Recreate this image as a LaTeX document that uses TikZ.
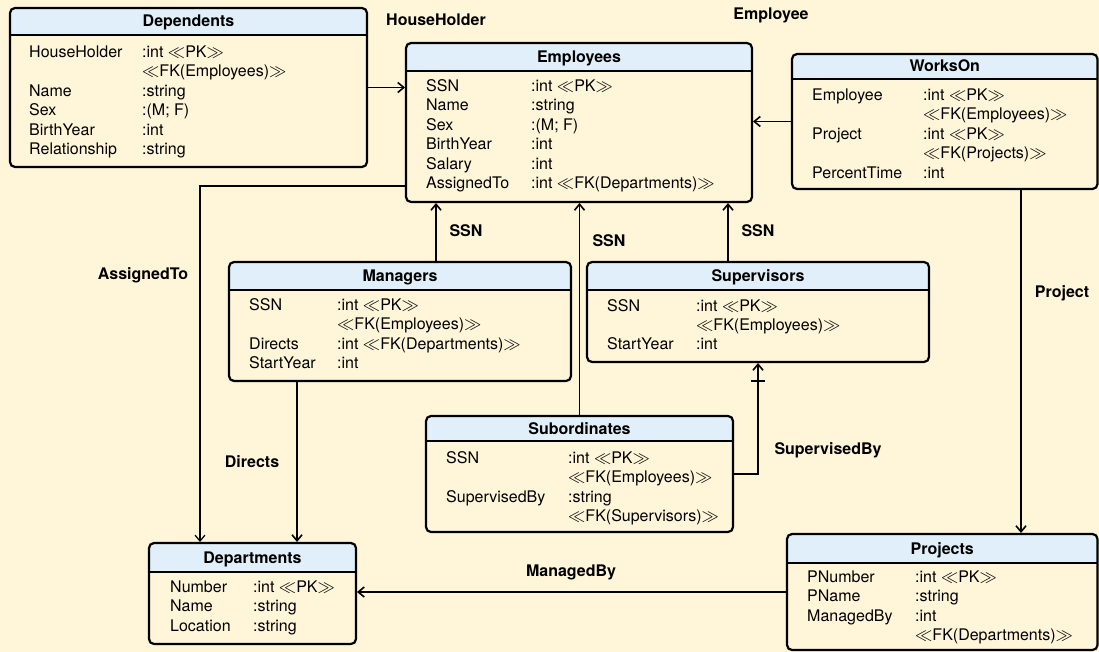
\documentclass[tikz,border=0pt]{standalone}
\usepackage{fontspec}
\setmainfont{TeX Gyre Heros}
\usetikzlibrary{arrows.meta}
\definecolor{bgc}{HTML}{FFF5D9}
\definecolor{hdrc}{HTML}{E0EFFA}
\begin{document}
\begin{tikzpicture}[x=1pt,y=-1pt,
  tbl/.style={draw, line width=2.2pt, rounded corners=5pt, fill=bgc, inner sep=0pt, outer sep=1pt,
    path picture={\fill[hdrc, sharp corners] (path picture bounding box.north west) rectangle ([yshift=-#1]path picture bounding box.north east);
      \draw[line width=2pt, sharp corners] ([yshift=-#1]path picture bounding box.north west) -- ([yshift=-#1]path picture bounding box.north east);}},
  ttl/.style={font=\fontsize{16}{19.4}\selectfont\bfseries, anchor=base, inner sep=0pt},
  body/.style={font=\fontsize{16}{19.4}\selectfont, anchor=base west, inner sep=0pt},
  lbl/.style={font=\fontsize{16}{19.4}\selectfont\bfseries, inner sep=0pt},
  conn/.style={line width=1.6pt, -{Straight Barb[length=6pt,width=10pt]}},
]
\path[use as bounding box, fill=bgc] (0,0) rectangle (1099,652);

% tables
\node[tbl=27pt, minimum width=357pt, minimum height=159pt] (dep) at (188.5,87.5) {};
\node[tbl=28pt, minimum width=346pt, minimum height=159pt] (emp) at (579,122.5) {};
\node[tbl=25pt, minimum width=305.5pt, minimum height=135pt] (works) at (944.75,121.5) {};
\node[tbl=28pt, minimum width=342pt, minimum height=119pt] (mgr) at (400,321.5) {};
\node[tbl=28pt, minimum width=342pt, minimum height=100pt] (sup) at (758,312) {};
\node[tbl=25pt, minimum width=307pt, minimum height=116pt] (sub) at (579.5,474) {};
\node[tbl=29pt, minimum width=207pt, minimum height=101pt] (dept) at (252.5,593.5) {};
\node[tbl=29pt, minimum width=310.5pt, minimum height=116pt] (proj) at (942.25,592) {};

% titles
\node[ttl] (dep-t) at (188.5,27) {Dependents};
\node[ttl] (emp-t) at (579,62.5) {Employees};
\node[ttl] (works-t) at (944.75,72) {WorksOn};
\node[ttl] (mgr-t) at (400,281.5) {Managers};
\node[ttl] (sup-t) at (758,281.5) {Supervisors};
\node[ttl] (sub-t) at (579.5,434) {Subordinates};
\node[ttl] (dept-t) at (252.5,563) {Departments};
\node[ttl] (proj-t) at (942.25,554) {Projects};

% bodies
\node[body] (dep-b) at (29,57.5) {\begin{tabular}[t]{@{}p{113pt}@{}l@{}}
HouseHolder & :int $\ll$PK$\gg$\\
 & $\ll$FK(Employees)$\gg$\\
Name & :string\\
Sex & :(M; F)\\
BirthYear & :int\\
Relationship & :string\end{tabular}};
\node[body] (emp-b) at (426,91.5) {\begin{tabular}[t]{@{}p{105pt}@{}l@{}}
SSN & :int $\ll$PK$\gg$\\
Name & :string\\
Sex & :(M; F)\\
BirthYear & :int\\
Salary & :int\\
AssignedTo & :int $\ll$FK(Departments)$\gg$\end{tabular}};
\node[body] (works-b) at (812,100.5) {\begin{tabular}[t]{@{}p{111pt}@{}l@{}}
Employee & :int $\ll$PK$\gg$\\
 & $\ll$FK(Employees)$\gg$\\
Project & :int $\ll$PK$\gg$\\
 & $\ll$FK(Projects)$\gg$\\
PercentTime & :int\end{tabular}};
\node[body] (mgr-b) at (249,310.5) {\begin{tabular}[t]{@{}p{88pt}@{}l@{}}
SSN & :int $\ll$PK$\gg$\\
 & $\ll$FK(Employees)$\gg$\\
Directs & :int $\ll$FK(Departments)$\gg$\\
StartYear & :int\end{tabular}};
\node[body] (sup-b) at (607,311) {\begin{tabular}[t]{@{}p{89pt}@{}l@{}}
SSN & :int $\ll$PK$\gg$\\
 & $\ll$FK(Employees)$\gg$\\
StartYear & :int\end{tabular}};
\node[body] (sub-b) at (446,463.5) {\begin{tabular}[t]{@{}p{122pt}@{}l@{}}
SSN & :int $\ll$PK$\gg$\\
 & $\ll$FK(Employees)$\gg$\\
SupervisedBy & :string\\
 & $\ll$FK(Supervisors)$\gg$\end{tabular}};
\node[body] (dept-b) at (170,592.5) {\begin{tabular}[t]{@{}p{83pt}@{}l@{}}
Number & :int $\ll$PK$\gg$\\
Name & :string\\
Location & :string\end{tabular}};
\node[body] (proj-b) at (807,582.5) {\begin{tabular}[t]{@{}p{108pt}@{}l@{}}
PNumber & :int $\ll$PK$\gg$\\
PName & :string\\
ManagedBy & :int\\
 & $\ll$FK(Departments)$\gg$\end{tabular}};

% connectors
\draw[conn] (dep.east) -- (dep.east -| emp.west);
\draw[conn] (works.west) -- (works.west -| emp.east);
\draw[conn, line width=1.2pt] ([yshift=17pt]emp.south west) -| ([xshift=52pt]dept.north west);
\draw[conn] ([xshift=208pt]mgr.north west) -- ([xshift=208pt]mgr.north west |- emp.south);
\draw[conn] (sub.north) -- (sub.north |- emp.south);
\draw[conn] ([xshift=142pt]sup.north west) -- ([xshift=142pt]sup.north west |- emp.south);
\draw[conn] ([xshift=69pt]mgr.south west) -- ([xshift=69pt]mgr.south west |- dept.north);
\draw[conn] (sub.east) -| ([xshift=172pt]sup.south west);
\draw[line width=1.6pt] ([xshift=165pt,yshift=-18pt]sup.south west) -- ++(14pt,0pt);
\draw[conn] ([xshift=230pt]works.south west) -- ([xshift=230pt]works.south west |- proj.north);
\draw[conn] (proj.west) -- (proj.west -| dept.east);

% labels
\node[lbl] (l-hh) at (436,20) {HouseHolder};
\node[lbl] (l-emp) at (771,15) {Employee};
\node[lbl] (l-at) at (143,275) {AssignedTo};
\node[lbl] (l-ssn1) at (466,231) {SSN};
\node[lbl] (l-ssn2) at (609,241) {SSN};
\node[lbl] (l-ssn3) at (758,231) {SSN};
\node[lbl] (l-dir) at (252,462) {Directs};
\node[lbl] (l-sb) at (828,450) {SupervisedBy};
\node[lbl] (l-proj) at (1062,293) {Project};
\node[lbl] (l-mb) at (571,572) {ManagedBy};
\end{tikzpicture}
\end{document}
